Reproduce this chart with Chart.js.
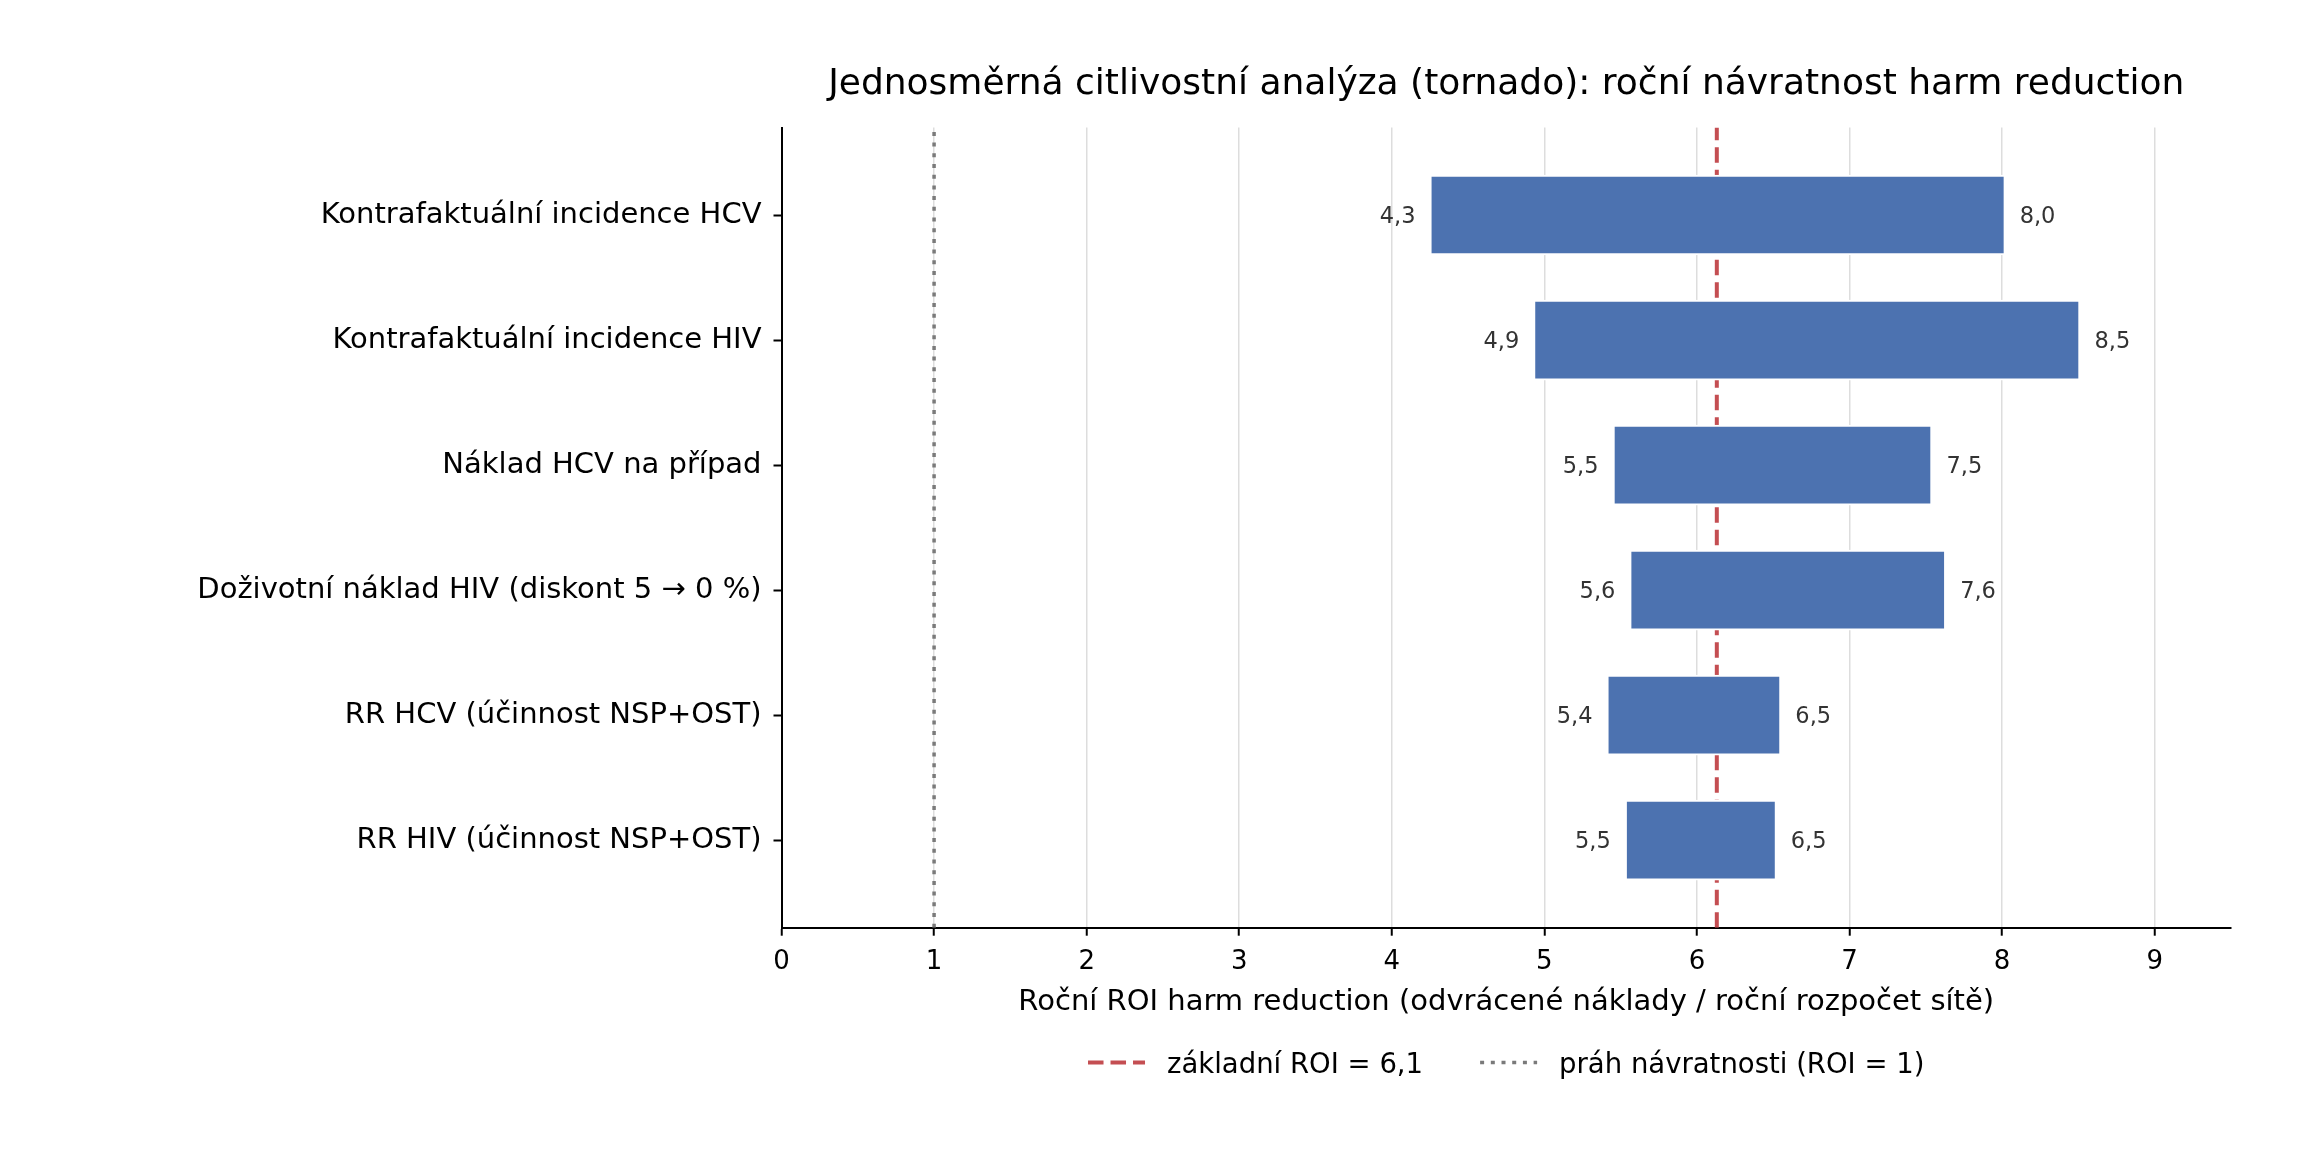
<!DOCTYPE html>
<html>
<head>
<meta charset="utf-8">
<script src="https://cdn.jsdelivr.net/npm/chart.js@4.4.1/dist/chart.umd.min.js"></script>
<style>
    html, body { margin: 0; padding: 0; background: #ffffff; }
    #obal { width: 2300px; height: 1160px; }
</style>
</head>
<body>
<div id="obal"><canvas id="tornadoChart" width="2300" height="1160"></canvas></div>
<script>
// hodnoty
const parametry = [
    'Kontrafaktuální incidence HCV',
    'Kontrafaktuální incidence HIV',
    'Náklad HCV na případ',
    'Doživotní náklad HIV (diskont 5 → 0 %)',
    'RR HCV (účinnost NSP+OST)',
    'RR HIV (účinnost NSP+OST)'
];
const roiNizky = [4.26, 4.94, 5.46, 5.57, 5.42, 5.54];
const roiVysoky = [8.01, 8.50, 7.53, 7.62, 6.54, 6.51];
const zakladniRoi = 6.13;
const prahNavratnosti = 1;
const xTicks = [0, 1, 2, 3, 4, 5, 6, 7, 8, 9];
const xMax = 9.5;
const yRozsah = [-0.7, 5.7];

const nazev = 'Jednosměrná citlivostní analýza (tornado): roční návratnost harm reduction';
const osaX = 'Roční ROI harm reduction (odvrácené náklady / roční rozpočet sítě)';
const legendaZaklad = 'základní ROI = ' + String(Math.round(zakladniRoi * 10) / 10).replace('.', ',');
const legendaPrah = 'práh návratnosti (ROI = ' + prahNavratnosti + ')';

const PISMO = '"DejaVu Sans"';
const CERVENA = '#c44e52';
const SEDA = '#7a7a7a';
const MODRA = '#4c72b0';

const fmt = v => v.toFixed(1).replace('.', ',');

const popisky = {
    id: 'popisky',
    afterDatasetsDraw(chart) {
        const ctx = chart.ctx;
        const meta = chart.getDatasetMeta(0);
        const vel = 22.5;
        ctx.save();
        ctx.font = vel + 'px ' + PISMO;
        ctx.fillStyle = '#333333';
        ctx.textBaseline = 'alphabetic';
        meta.data.forEach((bar, i) => {
            const lo = Math.min(bar.x, bar.base);
            const hi = Math.max(bar.x, bar.base);
            const yb = bar.y + 0.365 * vel;
            ctx.textAlign = 'right';
            ctx.fillText(fmt(roiNizky[i]), lo - 16, yb);
            ctx.textAlign = 'left';
            ctx.fillText(fmt(roiVysoky[i]), hi + 16, yb);
        });
        ctx.restore();
    },
    afterDraw(chart) {
        const ctx = chart.ctx;
        const area = chart.chartArea;
        const stred = (area.left + area.right) / 2;
        ctx.save();
        ctx.fillStyle = '#000000';
        ctx.textBaseline = 'alphabetic';
        ctx.textAlign = 'center';

        ctx.font = '36px ' + PISMO;
        ctx.fillText(nazev, stred, 94);

        ctx.font = '29px ' + PISMO;
        ctx.fillText(osaX, stred, 1010);

        // legenda
        ctx.font = '27.5px ' + PISMO;
        const handle = 57, mezera = 22, mezi = 57;
        const w1 = ctx.measureText(legendaZaklad).width;
        const w2 = ctx.measureText(legendaPrah).width;
        const celkem = handle + mezera + w1 + mezi + handle + mezera + w2;
        let x = stred - celkem / 2;
        const yl = 1062.5;
        ctx.textAlign = 'left';

        ctx.strokeStyle = CERVENA;
        ctx.lineWidth = 4;
        ctx.setLineDash([15.5, 7]);
        ctx.beginPath();
        ctx.moveTo(x, yl);
        ctx.lineTo(x + handle, yl);
        ctx.stroke();
        x += handle + mezera;
        ctx.fillText(legendaZaklad, x, 1073);
        x += w1 + mezi;

        ctx.strokeStyle = SEDA;
        ctx.lineWidth = 3.5;
        ctx.setLineDash([4, 6.7]);
        ctx.beginPath();
        ctx.moveTo(x, yl);
        ctx.lineTo(x + handle, yl);
        ctx.stroke();
        x += handle + mezera;
        ctx.fillText(legendaPrah, x, 1073);

        ctx.restore();
    }
};

new Chart(document.getElementById('tornadoChart'), {
    type: 'bar',
    data: {
        datasets: [{
            label: 'ROI',
            data: parametry.map((p, i) => ({ y: i, x: [roiNizky[i], roiVysoky[i]] })),
            backgroundColor: MODRA,
            borderColor: '#ffffff',
            borderWidth: { top: 2, bottom: 2, left: 0, right: 0 },
            borderSkipped: false,
            barThickness: 80,
            order: 0
        }, {
            type: 'line',
            label: legendaZaklad,
            data: [{ x: zakladniRoi, y: yRozsah[1] }, { x: zakladniRoi, y: yRozsah[0] }],
            borderColor: CERVENA,
            borderWidth: 4,
            borderDash: [15.5, 7],
            pointRadius: 0,
            order: 1
        }, {
            type: 'line',
            label: legendaPrah,
            data: [{ x: prahNavratnosti, y: yRozsah[1] }, { x: prahNavratnosti, y: yRozsah[0] }],
            borderColor: SEDA,
            borderWidth: 3.5,
            borderDash: [4, 6.7],
            pointRadius: 0,
            order: 2
        }]
    },
    options: {
        indexAxis: 'y',
        responsive: false,
        devicePixelRatio: 1,
        animation: false,
        layout: { padding: { top: 127.5, right: 69, bottom: 0, left: 0 } },
        plugins: {
            legend: { display: false },
            title: { display: false },
            tooltip: { enabled: false }
        },
        scales: {
            x: {
                type: 'linear',
                position: 'bottom',
                min: 0,
                max: xMax,
                offset: false,
                afterBuildTicks: s => { s.ticks = xTicks.map(v => ({ value: v })); },
                afterFit: s => { s.height = 1160 - 927.7; },
                ticks: {
                    callback: v => String(v),
                    font: { family: 'DejaVu Sans', size: 26 },
                    color: '#000000',
                    padding: 11,
                    maxRotation: 0
                },
                grid: {
                    offset: false,
                    color: '#dddddd',
                    lineWidth: 1.5,
                    tickColor: '#000000',
                    tickLength: 8,
                    tickWidth: 2
                },
                border: { color: '#000000', width: 2 }
            },
            y: {
                type: 'linear',
                reverse: true,
                min: yRozsah[0],
                max: yRozsah[1],
                offset: false,
                afterBuildTicks: s => { s.ticks = parametry.map((p, i) => ({ value: i })); },
                afterFit: s => { s.width = 781.5; },
                ticks: {
                    callback: v => parametry[v],
                    font: { family: 'DejaVu Sans', size: 29 },
                    color: '#000000',
                    padding: 12,
                    autoSkip: false
                },
                grid: {
                    offset: false,
                    drawOnChartArea: false,
                    tickColor: '#000000',
                    tickLength: 8,
                    tickWidth: 2
                },
                border: { color: '#000000', width: 2 }
            }
        }
    },
    plugins: [popisky]
});
</script>
</body>
</html>
